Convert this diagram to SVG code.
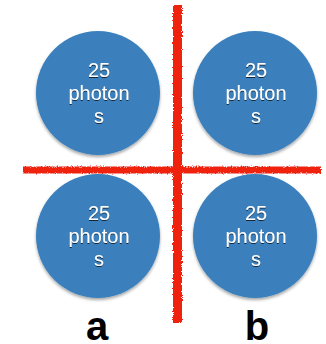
<svg xmlns="http://www.w3.org/2000/svg" width="326" height="344" viewBox="0 0 326 344">
<style>
.c{fill:#3a80bc;filter:url(#cs)}
.t{font-family:"Liberation Sans",Arial,sans-serif;font-size:20px;fill:#ffffff;text-anchor:middle;filter:url(#ts)}
.lbl{font-family:"Liberation Sans",Arial,sans-serif;font-size:40px;font-weight:bold;fill:#000000;text-anchor:middle}
.red{fill:#ee2211;filter:url(#rough)}
</style>
<defs>
<filter id="cs" x="-20%" y="-20%" width="140%" height="150%">
<feDropShadow dx="0" dy="2" stdDeviation="1.5" flood-color="#000" flood-opacity="0.35"/>
</filter>
<filter id="ts" x="-20%" y="-20%" width="140%" height="160%">
<feDropShadow dx="0" dy="1" stdDeviation="0.7" flood-color="#000" flood-opacity="0.7"/>
</filter>
<filter id="rough" x="-10%" y="-10%" width="120%" height="120%">
<feTurbulence type="fractalNoise" baseFrequency="0.8" numOctaves="2" seed="3" result="n"/>
<feDisplacementMap in="SourceGraphic" in2="n" scale="3" xChannelSelector="R" yChannelSelector="G"/>
</filter>
</defs>
<g id="connectors">
<rect class="red" x="173" y="5" width="9" height="318"/>
<rect class="red" x="23" y="166.5" width="298" height="7"/>
</g>
<g id="node-tl">
<circle class="c" cx="98" cy="93" r="62"/>
<text class="t" x="99" y="77">25</text>
<text class="t" x="99" y="100">photon</text>
<text class="t" x="99" y="123">s</text>
</g>
<g id="node-tr">
<circle class="c" cx="255" cy="93" r="62"/>
<text class="t" x="256" y="77">25</text>
<text class="t" x="256" y="100">photon</text>
<text class="t" x="256" y="123">s</text>
</g>
<g id="node-bl">
<circle class="c" cx="98" cy="236" r="62"/>
<text class="t" x="99" y="220">25</text>
<text class="t" x="99" y="243">photon</text>
<text class="t" x="99" y="266">s</text>
</g>
<g id="node-br">
<circle class="c" cx="255" cy="236" r="62"/>
<text class="t" x="256" y="220">25</text>
<text class="t" x="256" y="243">photon</text>
<text class="t" x="256" y="266">s</text>
</g>
<g id="labels">
<text class="lbl" x="97" y="340">a</text>
<text class="lbl" x="257" y="340">b</text>
</g>
</svg>
